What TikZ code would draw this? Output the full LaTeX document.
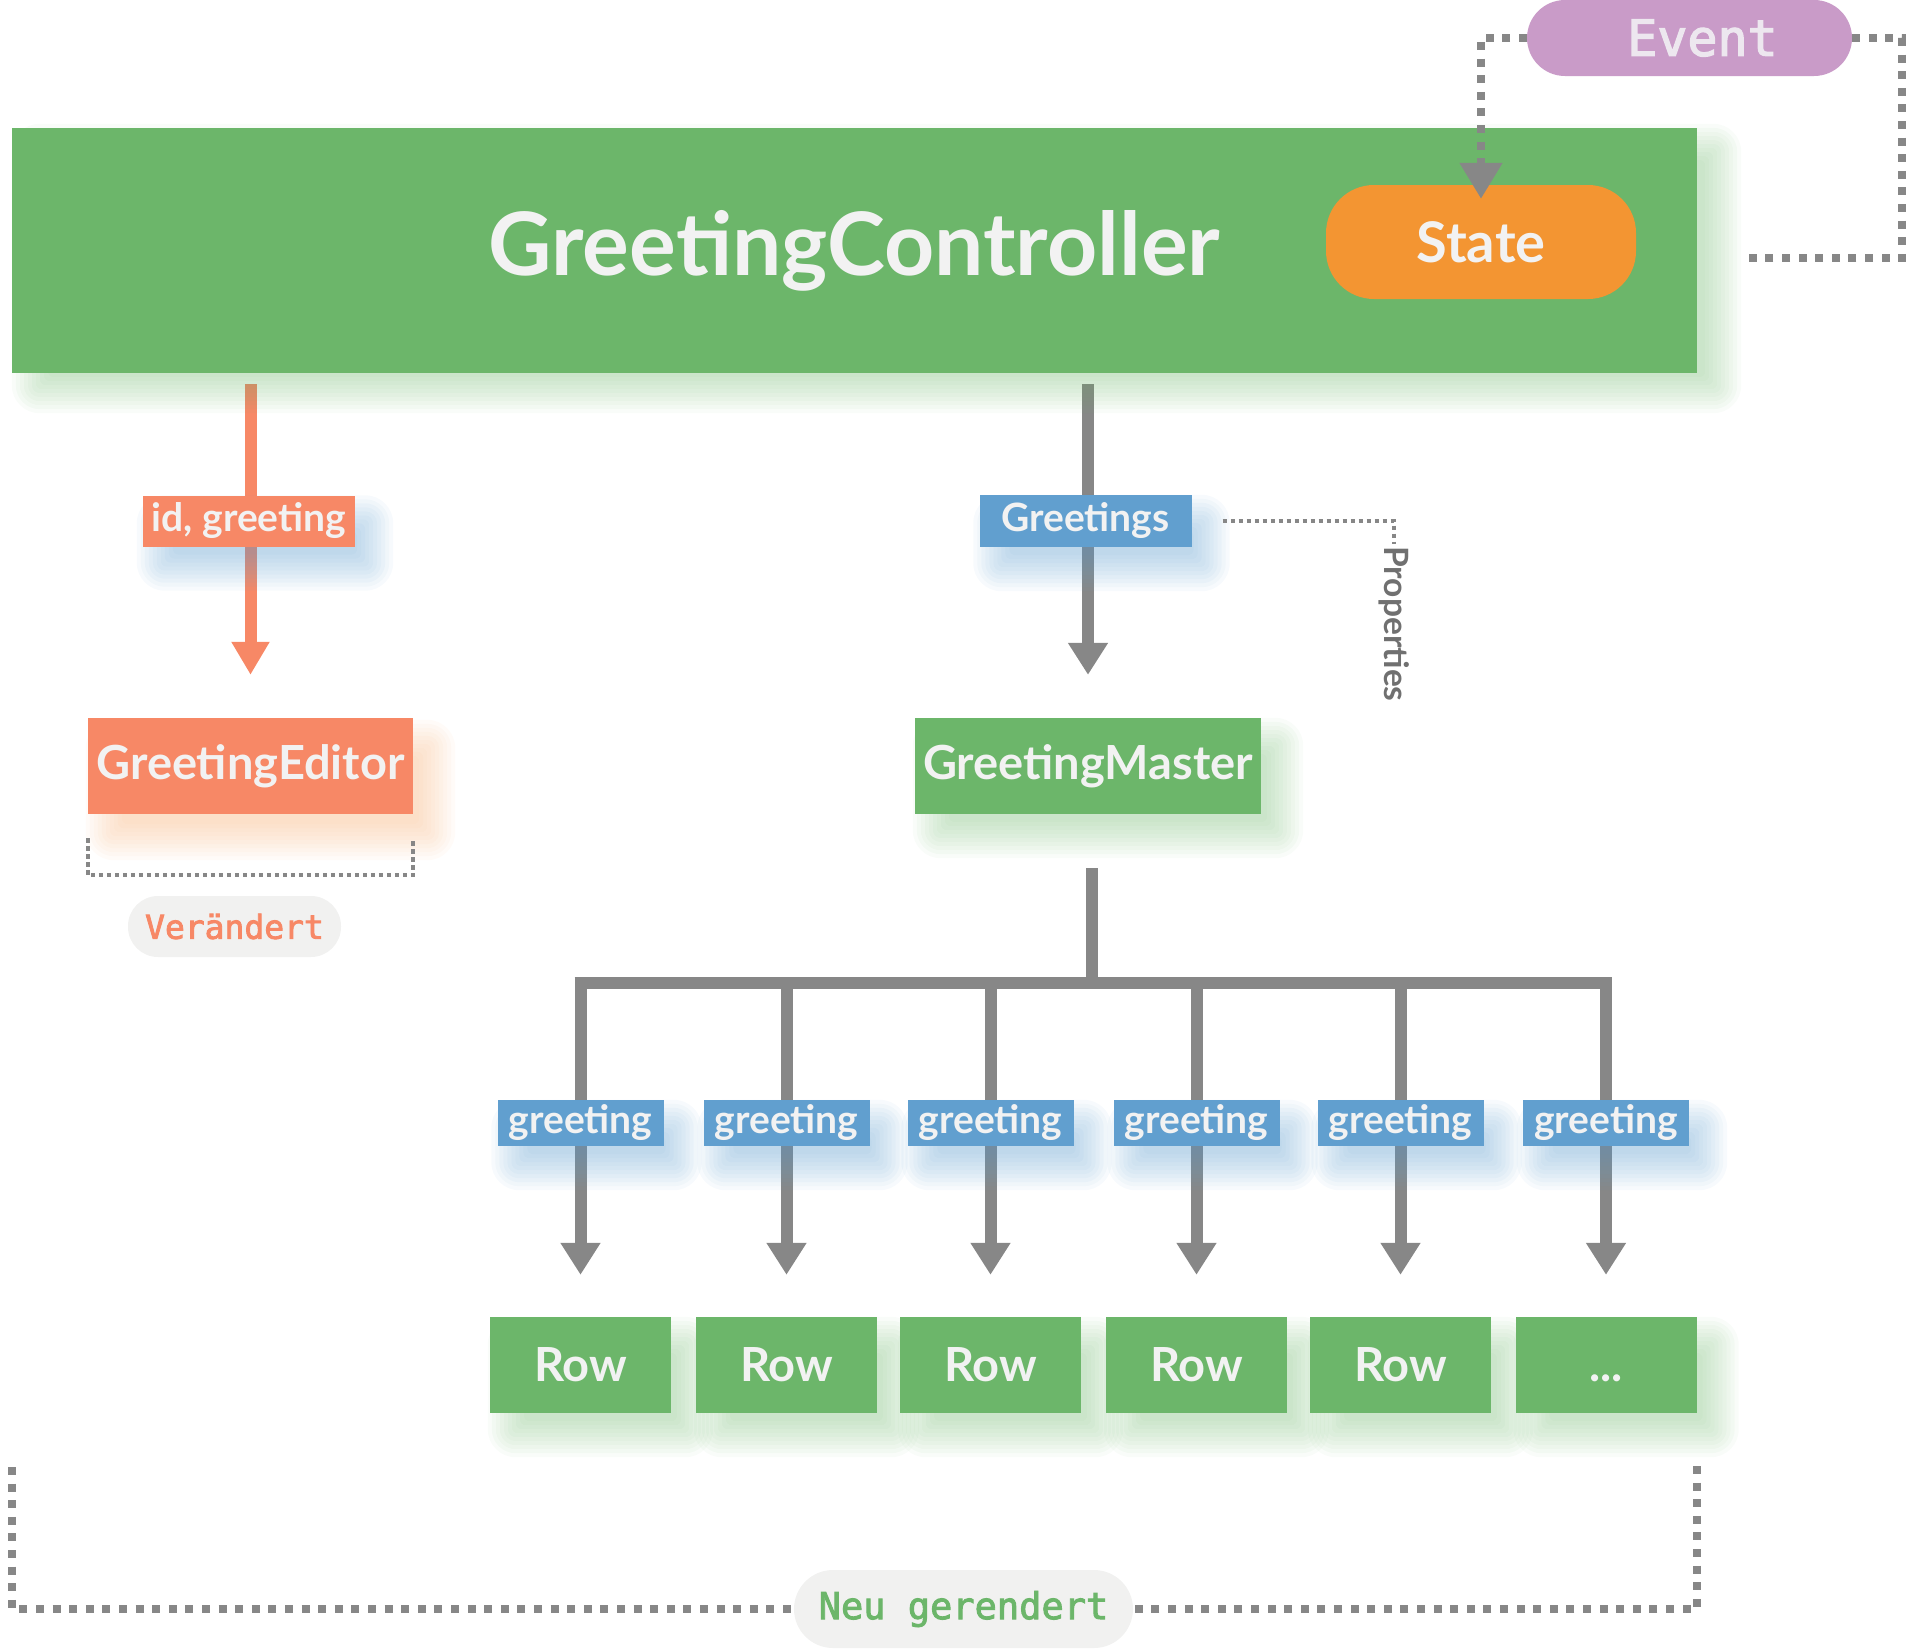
\documentclass[tikz,border=0pt]{standalone}
\usepackage{fontspec}
\setmainfont{Lato}
\newfontfamily\monofont{DejaVu Sans Mono}[FakeBold=2.5]
\usetikzlibrary{arrows.meta,calc}
\pgfdeclarelayer{edges}
\pgfdeclarelayer{shadows}
\pgfsetlayers{edges,shadows,main}
\definecolor{cgreen}{HTML}{6CB66A}
\definecolor{corange}{HTML}{F39532}
\definecolor{csalmon}{HTML}{F78866}
\definecolor{cblue}{HTML}{619FCF}
\definecolor{cpurple}{HTML}{C99BC8}
\definecolor{cgray}{HTML}{878787}
\definecolor{cpill}{HTML}{F1F1F0}
\definecolor{ctext}{HTML}{F2F2F2}
\definecolor{cpeach}{HTML}{F7B27A}
\definecolor{cevtext}{HTML}{EDE7EF}
\definecolor{cprop}{HTML}{707070}
\newcommand\softshadow[5]{%
  \begin{pgfonlayer}{shadows}
  \foreach \k in {0,...,9}{%
    \pgfmathsetmacro\ee{4*\k-14}%
    \pgfmathsetmacro\xa{#3-(\ee)}%
    \pgfmathsetmacro\ya{#4-(\ee)}%
    \pgfmathsetmacro\xb{#3+(\ee)}%
    \pgfmathsetmacro\yb{#4+(\ee)}%
    \pgfmathsetmacro\rc{max(\ee,0)+6}%
    \fill[#2, opacity=#5, rounded corners=\rc pt]
      ($(#1.north west)+(\xa,\ya)$) rectangle ($(#1.south east)+(\xb,\yb)$);
  }%
  \end{pgfonlayer}}
\tikzset{
  txt/.style={text=ctext, inner sep=0pt},
  ctrlbox/.style={txt, fill=cgreen, minimum width=1685pt, minimum height=245pt,
    font=\fontsize{87.5}{92}\selectfont\bfseries},
  statebox/.style={txt, fill=corange, rounded corners=48pt, minimum width=310pt,
    minimum height=114pt, font=\fontsize{56}{60}\selectfont\bfseries},
  eventbox/.style={fill=cpurple, text=cevtext, rounded corners=38pt, minimum width=325pt,
    minimum height=76pt, inner sep=0pt, font=\monofont\fontsize{50}{54}\selectfont},
  compbox/.style={txt, minimum width=#1, minimum height=96pt,
    font=\fontsize{47}{50}\selectfont\bfseries},
  rowbox/.style={txt, fill=cgreen, minimum width=181pt, minimum height=96pt,
    font=\fontsize{47}{50}\selectfont\bfseries},
  lblbox/.style={txt, fill=cblue, minimum width=166pt, minimum height=46pt,
    font=\fontsize{39}{42}\selectfont\bfseries},
  biglbl/.style={txt, minimum width=212pt, minimum height=51pt,
    font=\fontsize{39}{42}\selectfont\bfseries},
  pill/.style={fill=cpill, rounded corners=#1, inner sep=0pt},
  bigdot/.style={draw=cgray, line width=8pt, dash pattern=on 8pt off 8.6pt},
  smalldot/.style={draw=cgray, line width=3.5pt, dash pattern=on 4.5pt off 3.5pt},
  garrow/.style={draw=cgray, line width=12pt, -{Triangle[width=38pt,length=32pt]}},
  sarrow/.style={draw=csalmon, line width=12pt, -{Triangle[width=36pt,length=33pt]}},
}
\begin{document}
\begin{tikzpicture}[x=1pt,y=-1pt]
\useasboundingbox (0,0) rectangle (1907,1649);

% main nodes
\node[ctrlbox] (gc) at (854.5,250.5) {GreetingController};
\node[statebox] (st) at (1481,242) {State};
\node[eventbox] (ev) at (1689.5,38) {\hspace*{26pt}Event};
\node[compbox=325pt, fill=csalmon] (ge) at (250.5,766) {GreetingEditor};
\node[compbox=346pt, fill=cgreen] (gm) at (1088,766) {GreetingMaster};
\node[biglbl, fill=csalmon] (lid) at (249,521) {id, greeting};
\node[biglbl, fill=cblue, minimum height=52pt] (lgs) at (1085.5,521) {Greetings};
\node[rotate=-90, text=cprop, inner sep=2pt, font=\fontsize{33.5}{36}\selectfont\bfseries] (pr) at (1394,624) {Properties};

\foreach \i/\x in {1/580.5,2/786.5,3/990.5,4/1196.5,5/1400.5,6/1606}{
  \node[rowbox] (r\i) at (\x,1365) {\ifnum\i=6 \vphantom{Row}...\else Row\fi};
  \node[lblbox] (l\i) at (\x,1123) {greeting};
  \softshadow{r\i}{cgreen}{20}{22}{0.045}
  \softshadow{l\i}{cblue}{16}{22}{0.05}
}

\node[pill=30pt, minimum width=213pt, minimum height=61pt, text=csalmon,
  font=\monofont\fontsize{33}{36}\selectfont] (ver) at (234.5,926.5) {Verändert};
\node[pill=39pt, minimum width=339pt, minimum height=78pt, text=cgreen,
  font=\monofont\fontsize{37}{40}\selectfont] (neu) at (963.5,1609) {Neu gerendert};

% shadows
\softshadow{gc}{cgreen}{22}{18}{0.045}
\softshadow{st}{black}{14}{16}{0.03}
\softshadow{ge}{cpeach}{20}{24}{0.05}
\softshadow{gm}{cgreen}{20}{22}{0.045}
\softshadow{lid}{cblue}{16}{22}{0.05}
\softshadow{lgs}{cblue}{16}{22}{0.05}

% connectors
\begin{pgfonlayer}{edges}
\draw[sarrow] ([yshift=-11pt]gc.south -| ge.north) -- ([yshift=43pt]ge.north);
\draw[garrow] ([yshift=-11pt]gc.south -| gm.north) -- ([yshift=43pt]gm.north);
\coordinate (bar) at (1092,983);
\coordinate (barL) at (574.5,983);
\coordinate (barR) at (1612,983);
\draw[draw=cgray, line width=12pt] ([yshift=-54pt]gm.south -| bar) -- (bar);
\draw[draw=cgray, line width=12pt] (barL) -- (barR);
\foreach \i in {1,...,6}{
  \draw[garrow] (r\i.north |- 0,977) -- ([yshift=42pt]r\i.north);
}
\end{pgfonlayer}

\draw[smalldot] ([xshift=31pt]lgs.east) -| (pr.west);
\draw[smalldot] ([yshift=-24pt]ge.south west) -- ++(0,37) -| ([yshift=-24pt]ge.south east);

\draw[bigdot, color=cgray, -{Triangle[width=41pt,length=36pt]}]
  (ev.west) -| ([yshift=-14pt]st.north);
\coordinate (ecorner) at (1902,38);
\coordinate (fb) at (1746,258);
\draw[bigdot] (ev.east) -- (ecorner) |- (fb);

\coordinate (bl1) at (12,1467);
\coordinate (br1) at (1697,1466);
\begin{pgfonlayer}{edges}
\draw[bigdot] (bl1) |- (neu.west);
\draw[bigdot] (br1) |- (neu.east);
\end{pgfonlayer}
\end{tikzpicture}
\end{document}
